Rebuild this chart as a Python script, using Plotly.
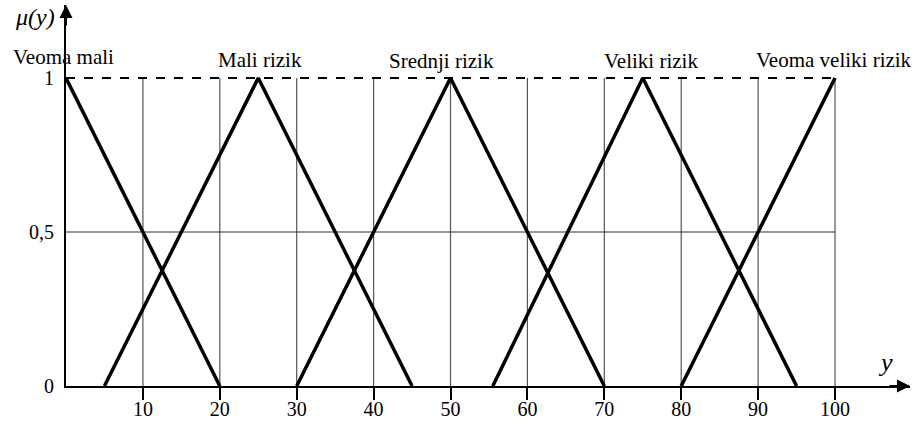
import plotly.graph_objects as go

# ---- data ----
set_names = ["Veoma mali", "Mali rizik", "Srednji rizik", "Veliki rizik", "Veoma veliki rizik"]
set_x = [
    [0, 20],
    [5, 25, 45],
    [30, 50, 70],
    [55.5, 75, 95],
    [80, 100],
]
set_mu = [
    [1, 0],
    [0, 1, 0],
    [0, 1, 0],
    [0, 1, 0],
    [0, 1],
]
peak_x = [0, 25, 50, 75, 100]
x_ticks = [10, 20, 30, 40, 50, 60, 70, 80, 90, 100]
y_ticks = [0, 0.5, 1]
y_tick_text = ["0", "0,5", "1"]

FONT = "Liberation Serif, Times New Roman, serif"
X_MAX = 109.75
Y_MAX = 1.237

fig = go.Figure()

for xs, ys, name in zip(set_x, set_mu, set_names):
    fig.add_trace(go.Scatter(x=xs, y=ys, mode="lines", name=name,
                             line=dict(color="black", width=3.5),
                             showlegend=False, hoverinfo="skip"))

shapes = []
for xv in x_ticks:
    shapes.append(dict(type="line", xref="x", yref="y", x0=xv, x1=xv, y0=0, y1=1,
                       line=dict(color="#555555", width=1.2), layer="below"))
shapes.append(dict(type="line", xref="x", yref="y", x0=0, x1=100, y0=0.5, y1=0.5,
                   line=dict(color="#333333", width=1.2), layer="below"))
shapes.append(dict(type="line", xref="x", yref="y", x0=0, x1=100, y0=1, y1=1,
                   line=dict(color="black", width=2, dash="dash"), layer="below"))

label_shift = [-3, 2, -9, 8, -1]
label_y = [1.068, 1.058, 1.055, 1.055, 1.058]
annotations = []
for name, px, dx, ly in zip(set_names, peak_x, label_shift, label_y):
    annotations.append(dict(x=px, y=ly, xref="x", yref="y", text=name, showarrow=False,
                            xshift=dx, xanchor="center", yanchor="middle",
                            font=dict(family=FONT, size=21, color="black")))

# axis arrows
annotations.append(dict(x=X_MAX, y=0, xref="x", yref="y", ax=-22, ay=0, text="",
                        showarrow=True, arrowhead=2, arrowsize=1.3, arrowwidth=2,
                        arrowcolor="black"))
annotations.append(dict(x=0, y=Y_MAX, xref="x", yref="y", ax=0, ay=22, text="",
                        showarrow=True, arrowhead=2, arrowsize=1.3, arrowwidth=2,
                        arrowcolor="black"))
# axis titles (pixel-placed, converted to paper below)
annotations.append(dict(x=35, y=17, text="<i>μ(y)</i>",
                        showarrow=False, xanchor="center", yanchor="middle",
                        font=dict(family=FONT, size=24, color="black")))
annotations.append(dict(x=885, y=362, text="<i>y</i>", showarrow=False,
                        xanchor="center", yanchor="middle",
                        font=dict(family=FONT, size=26, color="black")))

W, H = 918, 426
ML, MR, MT, MB = 66, 8, 5, 40
pw, ph = W - ML - MR, H - MT - MB
for a in annotations[-2:]:
    a["xref"] = "paper"
    a["yref"] = "paper"
    a["x"] = (a["x"] - ML) / pw
    a["y"] = (H - MB - a["y"]) / ph

fig.update_layout(
    width=W, height=H,
    margin=dict(l=ML, r=MR, t=MT, b=MB, autoexpand=False),
    paper_bgcolor="white", plot_bgcolor="white",
    shapes=shapes, annotations=annotations,
    xaxis=dict(range=[0, X_MAX], tickvals=x_ticks, ticks="outside", ticklen=12,
               tickwidth=1.5, tickcolor="black", showgrid=False, zeroline=False,
               showline=True, linecolor="black", linewidth=2, automargin=False,
               ticklabelstandoff=-8,
               tickfont=dict(family=FONT, size=20, color="black")),
    yaxis=dict(range=[0, Y_MAX], tickvals=y_ticks, ticktext=y_tick_text, ticks="",
               showgrid=False, zeroline=False, showline=True, linecolor="black",
               linewidth=2, ticklabelstandoff=6, automargin=False,
               tickfont=dict(family=FONT, size=20, color="black")),
)

fig.write_html("out.html", config={"displayModeBar": False},
               post_script="document.body.style.margin='0';document.body.style.overflow='hidden';")
